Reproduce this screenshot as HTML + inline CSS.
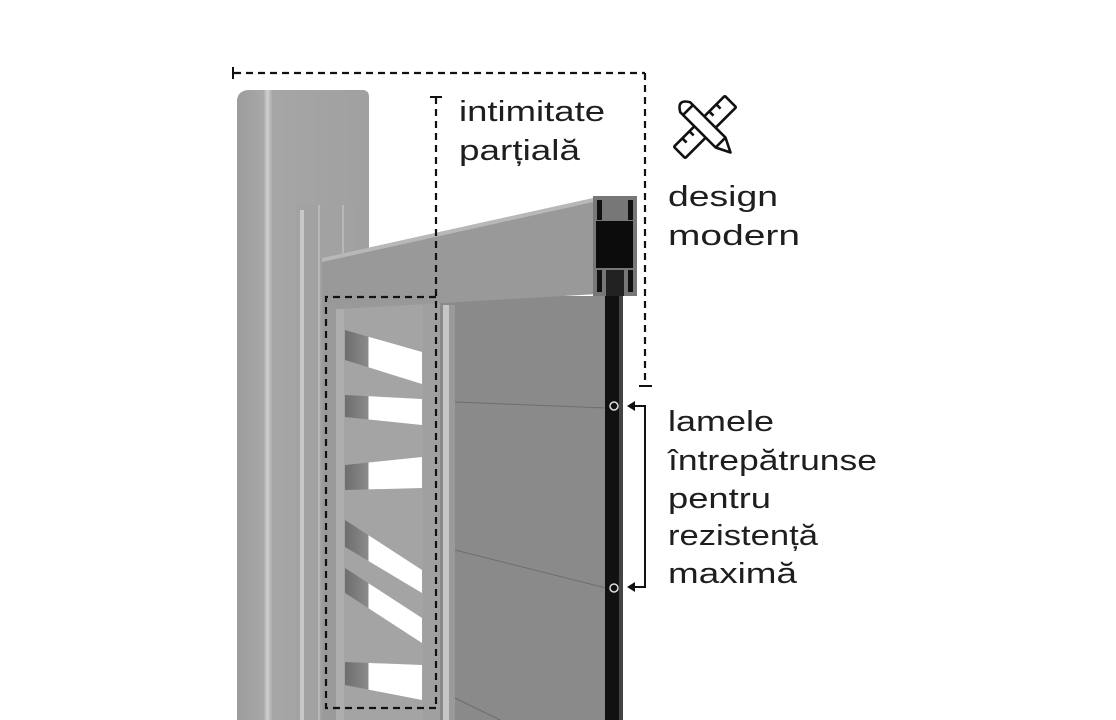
<!DOCTYPE html>
<html><head><meta charset="utf-8"><style>
html,body{margin:0;padding:0;background:#fff;}
svg{display:block}
text{font-family:"Liberation Sans",sans-serif;font-size:29px;fill:#1e1e1e;}
</style></head><body>
<svg width="1116" height="720" viewBox="0 0 1116 720" xmlns="http://www.w3.org/2000/svg">
<defs>
<linearGradient id="post" x1="0" x2="1" y1="0" y2="0">
<stop offset="0" stop-color="#9c9c9c"/><stop offset="0.2" stop-color="#a8a8a8"/><stop offset="0.23" stop-color="#d0d0d0"/><stop offset="0.27" stop-color="#a6a6a6"/><stop offset="1" stop-color="#a0a0a0"/>
</linearGradient>
<linearGradient id="hole" x1="0" x2="1"><stop offset="0" stop-color="#6e6e6e"/><stop offset="0.3" stop-color="#8a8a8a"/><stop offset="0.31" stop-color="#fff"/><stop offset="1" stop-color="#fff"/></linearGradient>
</defs>
<path d="M237 100 Q238 91 248 90 L364 90 Q369 91 369 97 L369 720 L237 720 Z" fill="url(#post)"/>
<rect x="296" y="205" width="58" height="515" fill="#a2a2a2"/>
<rect x="300" y="210" width="4" height="510" fill="#c8c8c8"/>
<rect x="318" y="205" width="2" height="515" fill="#b8b8b8"/>
<rect x="342" y="205" width="2" height="515" fill="#b8b8b8"/>
<rect x="322" y="300" width="124" height="420" fill="#a4a4a4"/>
<rect x="322" y="300" width="14" height="420" fill="#9a9a9a"/>
<rect x="336" y="300" width="8" height="420" fill="#aeaeae"/>
<polygon points="345,330 422,352 422,384 345,360" fill="url(#hole)"/>
<polygon points="345,395 422,399 422,425 345,417" fill="url(#hole)"/>
<polygon points="345,465 422,457 422,488 345,490" fill="url(#hole)"/>
<polygon points="345,520 422,570 422,593 345,547" fill="url(#hole)"/>
<polygon points="345,568 422,618 422,643 345,593" fill="url(#hole)"/>
<polygon points="345,662 422,665 422,700 345,685" fill="url(#hole)"/>
<rect x="423" y="300" width="20" height="420" fill="#a0a0a0"/>
<rect x="440" y="296" width="170" height="424" fill="#8a8a8a"/>
<rect x="443" y="305" width="6" height="415" fill="#c6c6c6"/>
<rect x="449" y="305" width="6" height="415" fill="#9a9a9a"/>
<line x1="455" y1="402" x2="606" y2="408" stroke="#6e6e6e" stroke-width="1"/>
<line x1="455" y1="550" x2="606" y2="588" stroke="#6e6e6e" stroke-width="1"/>
<line x1="455" y1="698" x2="500" y2="720" stroke="#6e6e6e" stroke-width="1"/>
<rect x="605" y="270" width="18" height="450" fill="#111"/>
<rect x="619" y="270" width="4" height="450" fill="#444"/>
<circle cx="614" cy="406" r="4" fill="none" stroke="#ddd" stroke-width="1.5"/>
<circle cx="614" cy="588" r="4" fill="none" stroke="#ddd" stroke-width="1.5"/>
<polygon points="322,258 598,197 598,294 322,310" fill="#999"/>
<polygon points="322,258 598,197 598,201 322,262" fill="#b8b8b8"/>
<rect x="593" y="196" width="44" height="100" fill="#777"/>
<rect x="596" y="221" width="37" height="47" fill="#0c0c0c"/>
<rect x="597" y="200" width="5" height="20" fill="#111"/>
<rect x="628" y="200" width="5" height="20" fill="#111"/>
<rect x="597" y="270" width="5" height="22" fill="#111"/>
<rect x="628" y="270" width="5" height="22" fill="#111"/>
<rect x="606" y="270" width="18" height="26" fill="#222"/>
<g stroke="#111" stroke-width="2.2" fill="none" stroke-dasharray="7,5">
<line x1="234" y1="73" x2="645" y2="73"/>
<line x1="645" y1="73" x2="645" y2="385"/>
<line x1="436" y1="97" x2="436" y2="708"/>
<polyline points="436,297 326,297 326,708 436,708"/>
</g>
<g stroke="#111" stroke-width="2" fill="none">
<line x1="233" y1="67" x2="233" y2="79"/>
<line x1="639" y1="386" x2="652" y2="386"/>
<line x1="430" y1="97" x2="442" y2="97"/>
<polyline points="632,406 645,406 645,587 632,587"/>
</g>
<polygon points="627,406 635,401 635,411" fill="#111"/>
<polygon points="627,587 635,582 635,592" fill="#111"/>
<g stroke="#111" stroke-width="2.6" fill="none" stroke-linejoin="round" transform="translate(705,127)">
<g transform="rotate(45)"><rect x="-8" y="-36" width="16" height="72" rx="1"/>
<line x1="-8" y1="-24" x2="-2" y2="-24"/><line x1="-8" y1="-14" x2="-2" y2="-14"/><line x1="-8" y1="14" x2="-2" y2="14"/><line x1="-8" y1="24" x2="-2" y2="24"/></g>
<g transform="rotate(-45)" fill="#fff"><path d="M-7 -28 Q0 -40 7 -28 L7 22 L0 36 L-7 22 Z"/><line x1="-7" y1="-24" x2="7" y2="-24"/><line x1="-7" y1="22" x2="7" y2="22"/></g>
</g>
<text x="459" y="121" textLength="146" lengthAdjust="spacingAndGlyphs">intimitate</text>
<text x="459" y="160" textLength="121" lengthAdjust="spacingAndGlyphs">parțială</text>
<text x="668" y="206" textLength="110" lengthAdjust="spacingAndGlyphs">design</text>
<text x="668" y="245" textLength="132" lengthAdjust="spacingAndGlyphs">modern</text>
<text x="668" y="431" textLength="106" lengthAdjust="spacingAndGlyphs">lamele</text>
<text x="668" y="470" textLength="209" lengthAdjust="spacingAndGlyphs">întrepătrunse</text>
<text x="668" y="508" textLength="103" lengthAdjust="spacingAndGlyphs">pentru</text>
<text x="668" y="545" textLength="150" lengthAdjust="spacingAndGlyphs">rezistență</text>
<text x="668" y="583" textLength="129" lengthAdjust="spacingAndGlyphs">maximă</text>
</svg>
</body></html>
